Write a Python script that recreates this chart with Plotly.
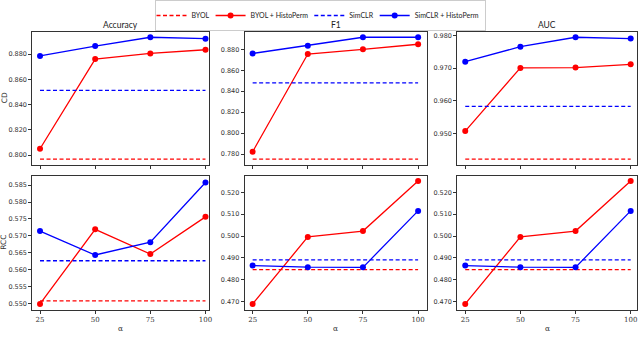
import plotly.graph_objects as go
from plotly.subplots import make_subplots

alpha = [25, 50, 75, 100]

# CD dataset
cd_acc_byol_hp = [0.805, 0.876, 0.8805, 0.8834]
cd_acc_simclr_hp = [0.8785, 0.8863, 0.8933, 0.8922]
cd_acc_byol = 0.7968
cd_acc_simclr = 0.8512

cd_f1_byol_hp = [0.7822, 0.8755, 0.880, 0.8848]
cd_f1_simclr_hp = [0.876, 0.8834, 0.8915, 0.8915]
cd_f1_byol = 0.7752
cd_f1_simclr = 0.848

cd_auc_byol_hp = [0.9507, 0.9701, 0.9702, 0.9712]
cd_auc_simclr_hp = [0.9720, 0.9766, 0.9795, 0.9791]
cd_auc_byol = 0.9421
cd_auc_simclr = 0.9583

# RCC dataset
rcc_acc_byol_hp = [0.5498, 0.5719, 0.5646, 0.5756]
rcc_acc_simclr_hp = [0.5714, 0.5643, 0.5681, 0.5858]
rcc_acc_byol = 0.5507
rcc_acc_simclr = 0.5626

rcc_f1_byol_hp = [0.4690, 0.4996, 0.5023, 0.5252]
rcc_f1_simclr_hp = [0.4865, 0.4858, 0.4857, 0.5115]
rcc_f1_byol = 0.4847
rcc_f1_simclr = 0.4891

rcc_auc_byol_hp = [0.4690, 0.4996, 0.5023, 0.5252]
rcc_auc_simclr_hp = [0.4865, 0.4858, 0.4857, 0.5115]
rcc_auc_byol = 0.4847
rcc_auc_simclr = 0.4891

col_titles = ["Accuracy", "F1", "AUC"]
row_titles = ["CD", "RCC"]

panels = [
    [(cd_acc_byol_hp, cd_acc_simclr_hp, cd_acc_byol, cd_acc_simclr),
     (cd_f1_byol_hp, cd_f1_simclr_hp, cd_f1_byol, cd_f1_simclr),
     (cd_auc_byol_hp, cd_auc_simclr_hp, cd_auc_byol, cd_auc_simclr)],
    [(rcc_acc_byol_hp, rcc_acc_simclr_hp, rcc_acc_byol, rcc_acc_simclr),
     (rcc_f1_byol_hp, rcc_f1_simclr_hp, rcc_f1_byol, rcc_f1_simclr),
     (rcc_auc_byol_hp, rcc_auc_simclr_hp, rcc_auc_byol, rcc_auc_simclr)],
]

y_ranges = [
    [(0.7921, 0.8977), (0.7695, 0.8968), (0.9403, 0.9812)],
    [(0.5480, 0.5878), (0.4662, 0.5276), (0.4662, 0.5276)],
]
y_dticks = [[0.02, 0.02, 0.01], [0.005, 0.01, 0.01]]
x_ranges = [(21.5, 101.6), (21.4, 103.9), (21.4, 103.0)]

W, H = 640, 346
col_px = [(32.3, 209.0), (244.7, 426.7), (457.3, 637.3)]
row_px = [(31.7, 165.0), (175.7, 310.0)]

RED = "#ff0000"
BLUE = "#0000ff"
DASH = "4px,2.5px"

fig = make_subplots(rows=2, cols=3)

for r in range(2):
    for c in range(3):
        hp_b, hp_s, base_b, base_s = panels[r][c]
        show = (r == 0 and c == 0)
        fig.add_trace(go.Scatter(x=alpha, y=[base_b] * len(alpha), mode="lines",
                                 line=dict(color=RED, width=1.3, dash=DASH),
                                 name="BYOL", showlegend=show, legendrank=1),
                      row=r + 1, col=c + 1)
        fig.add_trace(go.Scatter(x=alpha, y=hp_b, mode="lines+markers",
                                 line=dict(color=RED, width=1.3),
                                 marker=dict(color=RED, size=6),
                                 name="BYOL + HistoPerm", showlegend=show, legendrank=2),
                      row=r + 1, col=c + 1)
        fig.add_trace(go.Scatter(x=alpha, y=[base_s] * len(alpha), mode="lines",
                                 line=dict(color=BLUE, width=1.3, dash=DASH),
                                 name="SimCLR", showlegend=show, legendrank=3),
                      row=r + 1, col=c + 1)
        fig.add_trace(go.Scatter(x=alpha, y=hp_s, mode="lines+markers",
                                 line=dict(color=BLUE, width=1.3),
                                 marker=dict(color=BLUE, size=6),
                                 name="SimCLR + HistoPerm", showlegend=show, legendrank=4),
                      row=r + 1, col=c + 1)

        idx = r * 3 + c + 1
        xa = "xaxis" if idx == 1 else f"xaxis{idx}"
        ya = "yaxis" if idx == 1 else f"yaxis{idx}"
        x0, x1 = col_px[c]
        y0, y1 = row_px[r]
        lo, hi = y_ranges[r][c]
        dt = y_dticks[r][c]
        start = round((int(lo / dt) + 1) * dt, 4)
        fig.layout[xa].update(
            domain=[x0 / W, x1 / W], range=list(x_ranges[c]), automargin=False,
            tickvals=alpha, ticktext=[str(a) for a in alpha],
            showticklabels=(r == 1),
            ticks="outside", ticklen=3, tickcolor="#333",
            showline=True, mirror=True, linecolor="#333", linewidth=1,
            showgrid=False, zeroline=False,
            tickfont=dict(family="DejaVu Serif", size=7, color="#333"),
        )
        fig.layout[ya].update(
            domain=[1 - y1 / H, 1 - y0 / H], range=[lo, hi], automargin=False,
            tick0=start, dtick=dt, tickformat=".3f",
            ticks="outside", ticklen=3, tickcolor="#333",
            showline=True, mirror=True, linecolor="#333", linewidth=1,
            showgrid=False, zeroline=False,
            tickfont=dict(family="DejaVu Sans", size=6.5, color="#333"),
        )

annotations = []
for c, t in enumerate(col_titles):
    x0, x1 = col_px[c]
    annotations.append(dict(text=t, x=(x0 + x1) / 2 / W, y=1 - 25 / H, xref="paper", yref="paper",
                            showarrow=False, font=dict(family="Lato", size=8.5, color="#222"),
                            xanchor="center", yanchor="middle"))
    annotations.append(dict(text="α", x=(x0 + x1) / 2 / W, y=1 - 328 / H, xref="paper", yref="paper",
                            showarrow=False, font=dict(family="DejaVu Serif", size=7.5, color="#333"),
                            xanchor="center", yanchor="middle"))
for r, t in enumerate(row_titles):
    y0, y1 = row_px[r]
    annotations.append(dict(text=t, x=4 / W, y=1 - (y0 + y1) / 2 / H, xref="paper", yref="paper",
                            showarrow=False, textangle=-90,
                            font=dict(family="DejaVu Sans", size=7.5, color="#333"),
                            xanchor="center", yanchor="middle"))

fig.update_layout(
    width=W, height=H,
    margin=dict(l=0, r=0, t=0, b=0, autoexpand=False),
    paper_bgcolor="white", plot_bgcolor="white",
    annotations=annotations,
    legend=dict(orientation="h", x=0.5, xanchor="center", y=1.0, yanchor="top",
                bordercolor="#cccccc", borderwidth=1, bgcolor="white",
                font=dict(family="Lato", size=7, color="#222"),
                itemwidth=30, tracegroupgap=0, indentation=-4),
)

fig.write_html("out.html", config={"displayModeBar": False},
               post_script="document.body.style.margin='0';document.body.style.overflow='hidden';")
